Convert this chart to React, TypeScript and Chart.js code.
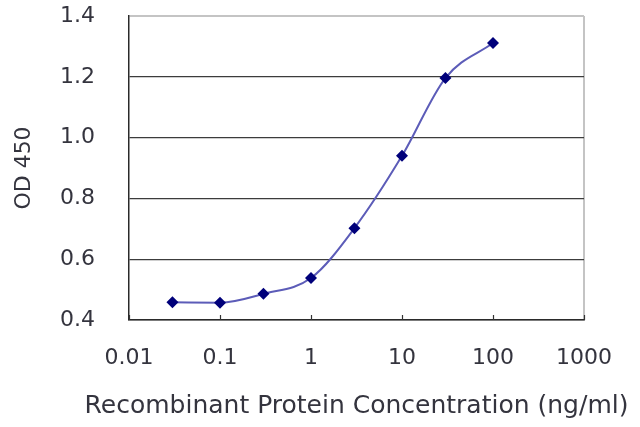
import { useEffect, useRef } from "react";
import { Chart, registerables } from "chart.js";
import type { Plugin } from "chart.js";

Chart.register(...registerables);

// concentrations (ng/ml) and measured OD 450
const concentrations = [0.03, 0.1, 0.3, 1, 3, 10, 30, 100];
const od450 = [0.458, 0.457, 0.486, 0.538, 0.702, 0.94, 1.196, 1.311];

const xTickValues = [0.01, 0.1, 1, 10, 100, 1000];
const xTickLabels = ["0.01", "0.1", "1", "10", "100", "1000"];
const xTitle = "Recombinant Protein Concentration (ng/ml)";

const FONT = "'DejaVu Sans', sans-serif";
const TEXT = "#34343e";

// x title drawn by hand (the scale title gets squeezed to the axis width),
// plus the small inside tick marks on the x axis
const xAxisExtras: Plugin<"line"> = {
  id: "xAxisExtras",
  afterDraw(chart) {
    const { ctx, chartArea } = chart;
    const xs = chart.scales.x;
    ctx.save();
    ctx.strokeStyle = "#333";
    ctx.lineWidth = 1.2;
    xTickValues.forEach((v) => {
      const px = Math.round(xs.getPixelForValue(v)) + 0.5;
      ctx.beginPath();
      ctx.moveTo(px, chartArea.bottom);
      ctx.lineTo(px, chartArea.bottom - 5);
      ctx.stroke();
    });
    ctx.font = `25px ${FONT}`;
    ctx.fillStyle = TEXT;
    ctx.textAlign = "center";
    ctx.textBaseline = "middle";
    ctx.fillText(xTitle, (chartArea.left + chartArea.right) / 2, chart.height - 21);
    ctx.restore();
  },
};

export default function App() {
  const canvasRef = useRef<HTMLCanvasElement | null>(null);

  useEffect(() => {
    if (!canvasRef.current) return;
    const ctx = canvasRef.current.getContext("2d");
    if (!ctx) return;

    const chart = new Chart(ctx, {
      type: "line",
      data: {
        datasets: [
          {
            data: concentrations.map((c, i) => ({ x: c, y: od450[i] })),
            borderColor: "#5c5cb8",
            borderWidth: 2,
            cubicInterpolationMode: "monotone",
            pointStyle: "rectRot",
            pointRadius: 6,
            pointBorderWidth: 0,
            pointBackgroundColor: "#00007a",
            fill: false,
          },
        ],
      },
      options: {
        responsive: false,
        animation: false,
        layout: { padding: { top: 16, right: 56, left: 0, bottom: 0 } },
        plugins: {
          legend: { display: false },
          tooltip: { enabled: false },
        },
        scales: {
          x: {
            type: "logarithmic",
            min: 0.01,
            max: 1000,
            afterBuildTicks: (scale) => {
              scale.ticks = xTickValues.map((v) => ({ value: v }));
            },
            afterFit: (scale) => {
              scale.height = 107;
            },
            grid: {
              drawOnChartArea: true,
              color: (c) => (c.index === xTickValues.length - 1 ? "#c4c4c4" : "rgba(0,0,0,0)"),
              lineWidth: (c) => (c.index === xTickValues.length - 1 ? 2 : 1),
              tickColor: "rgba(0,0,0,0)",
              tickLength: 24,
            },
            border: { color: "#2a2a2a", width: 1.5 },
            ticks: {
              padding: 3,
              maxRotation: 0,
              autoSkip: false,
              color: TEXT,
              font: { family: FONT, size: 22, lineHeight: 1 },
              callback: (_v, i) => xTickLabels[i],
            },
          },
          y: {
            min: 0.4,
            max: 1.4,
            afterFit: (scale) => {
              scale.width = 129;
            },
            grid: {
              drawTicks: true,
              tickLength: 31,
              tickColor: "rgba(0,0,0,0)",
              color: (c) => (c.tick && Math.abs(c.tick.value - 1.4) < 1e-6 ? "#c4c4c4" : "#3c3c3c"),
              lineWidth: (c) => (c.tick && Math.abs(c.tick.value - 1.4) < 1e-6 ? 2 : 1.2),
            },
            border: { color: "#2a2a2a", width: 1.5 },
            ticks: {
              stepSize: 0.2,
              padding: 3,
              color: TEXT,
              font: { family: FONT, size: 22, lineHeight: 1 },
              callback: (v) => Number(v).toFixed(1),
            },
            title: {
              display: true,
              text: "OD 450",
              color: TEXT,
              font: { family: FONT, size: 22, lineHeight: 1 },
              padding: { top: 13, bottom: 0 },
            },
          },
        },
      },
      plugins: [xAxisExtras],
    });

    return () => {
      chart.destroy();
    };
  }, []);

  return (
    <div style={{ position: "absolute", left: 0, top: 0, width: 640, height: 427, background: "#fff" }}>
      <canvas ref={canvasRef} width={640} height={427} />
    </div>
  );
}
